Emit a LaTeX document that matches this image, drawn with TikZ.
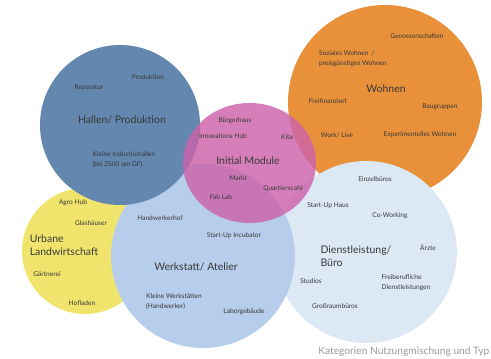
\documentclass[tikz,border=0pt]{standalone}
\usepackage{fontspec}
\setmainfont{Lato}
\usepackage{xcolor}
\usepackage{tikz}

\definecolor{hallenblue}{HTML}{6387AF}
\definecolor{wohnorange}{HTML}{E8913A}
\definecolor{modulepink}{HTML}{CC62AA}
\definecolor{agraryellow}{HTML}{F1E46C}
\definecolor{werkblue}{HTML}{B6CDEB}
\definecolor{bueroblue}{HTML}{DDE8F5}
\definecolor{labelgray}{HTML}{383838}
\definecolor{captiongray}{HTML}{9A9A9A}

\tikzset{
    title/.style={font=\fontsize{10.5}{13}\selectfont, text=labelgray, align=left, inner sep=0pt},
    item/.style={font=\fontsize{6.6}{10}\selectfont, text=labelgray, align=left, inner sep=0pt},
}

\begin{document}
\begin{tikzpicture}[x=1pt, y=-1pt]
\useasboundingbox (0,0) rectangle (491,359);

% Circles, back to front
\fill[wohnorange] (385,102) circle (97pt);
\fill[bueroblue] (366,252) circle (91pt);
\fill[agraryellow] (85,251) circle (63pt);
\fill[werkblue] (203,256) circle (92pt);
\fill[hallenblue] (120,125) circle (80pt);
\fill[modulepink, fill opacity=0.82] (249.5,163) ellipse [x radius=66.5pt, y radius=60pt];

% Titles
\node[title] (hallen) at (122,120) {Hallen/ Produktion};
\node[title] (wohnen) at (386,89) {Wohnen};
\node[title] (initial) at (248,161) {Initial Module};
\node[title] (urban) at (64,245) {Urbane\\Landwirtschaft};
\node[title] (werkstatt) at (196,267) {Werkstatt/ Atelier};
\node[title] (dienst) at (356,256) {Dienstleistung/\\Büro};

% Hallen/ Produktion
\foreach \x/\y/\txt [count=\i] in {148/77/Produktion, 89/88/Reperatur,
    124/160/{Kleine Industriehallen\\(bis 2500 qm GF)}}
    \node[item] (hallen-\i) at (\x,\y) {\txt};

% Wohnen
\foreach \x/\y/\txt [count=\i] in {417/36/Genossenschaften,
    353/59/{Soziales Wohnen~~/\\preisgünstiges Wohnen},
    328/101/Freifinanziert, 440/107/Baugruppen,
    337/135/{Work/ Live}, 420/135/Experimentelles Wohnen}
    \node[item] (wohnen-\i) at (\x,\y) {\txt};

% Initial Module
\foreach \x/\y/\txt [count=\i] in {235/121/Bürgerhaus, 223/136/Innovations Hub,
    287/137/Kita, 238/178/Markt, 283/189/Quartierscafé, 221/197/Fab Lab}
    \node[item] (initial-\i) at (\x,\y) {\txt};

% Urbane Landwirtschaft
\foreach \x/\y/\txt [count=\i] in {73/203/Agro Hub, 91/223/Glashäuser,
    47/274/Gärtnerei, 82/303/Hofladen}
    \node[item] (urban-\i) at (\x,\y) {\txt};

% Werkstatt/ Atelier
\foreach \x/\y/\txt [count=\i] in {160/218/Handwerkerhof, 234/236/Start-Up Incubator,
    174/302/{Kleine Werkstätten\\(Handwerker)}, 244/312/Laborgebäude}
    \node[item] (werkstatt-\i) at (\x,\y) {\txt};

% Dienstleistung/ Buero
\foreach \x/\y/\txt [count=\i] in {375/179/Einzelbüros, 328/206/Start-Up Haus,
    390/216/Co-Working, 428/248/Ärzte, 311/281/Studios,
    406/283/{Freiberufliche\\Dienstleistungen}, 335/306/Großraumbüros}
    \node[item] (dienst-\i) at (\x,\y) {\txt};

% Caption
\node[anchor=east, inner sep=0pt, font=\fontsize{10.2}{12}\selectfont, text=captiongray]
    (caption) at (489.5,352) {Kategorien Nutzungmischung und Typ};
\end{tikzpicture}
\end{document}
